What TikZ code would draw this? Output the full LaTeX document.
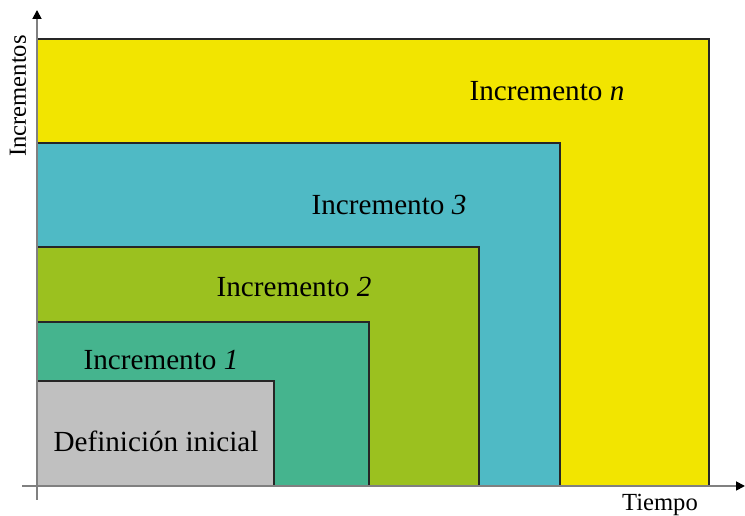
\documentclass[tikz,border=0pt]{standalone}
\usepackage{fontspec}
\setmainfont{Liberation Serif}
\usetikzlibrary{positioning,arrows.meta}

\definecolor{colN}{RGB}{242,229,0}
\definecolor{colTres}{RGB}{79,186,197}
\definecolor{colDos}{RGB}{155,193,31}
\definecolor{colUno}{RGB}{69,180,142}
\definecolor{colDef}{RGB}{192,192,192}

\tikzset{
  caja/.style={draw=black!85, line width=0.6pt},
  eje/.style={draw=gray, line width=1pt, -{Triangle[black,length=5pt,width=5pt]}},
  etiq/.style={font=\fontsize{16.6}{20}\selectfont, inner sep=0pt},
  ejetxt/.style={font=\fontsize{14}{17}\selectfont, inner sep=0pt}
}

\begin{document}
\begin{tikzpicture}[x=0.02cm,y=-0.02cm]
			\useasboundingbox (0,0) rectangle (745,516);
			
			\coordinate (o) at (37,486);
			\coordinate (xini) at (22,486);
			\coordinate (xfin) at (745,486);
			\coordinate (yini) at (37,500);
			\coordinate (yfin) at (37,10);
			
			\draw[caja, fill=colN] (o) rectangle (709,39);
			\draw[caja, fill=colTres] (o) rectangle (560,143);
			\draw[caja, fill=colDos] (o) rectangle (479,247);
			\draw[caja, fill=colUno] (o) rectangle (369,322);
			\draw[caja, fill=colDef] (o) rectangle (274,381);
			
			\node[etiq] (incn) at (547,91) {Incremento \textit{n}};
			\node[etiq] (inc3) at (389,205) {Incremento \textit{3}};
			\node[etiq] (inc2) at (294,287) {Incremento \textit{2}};
			\node[etiq] (inc1) at (161,360) {Incremento \textit{1}};
			\node[etiq] (def) at (156,441) {Definición inicial};
			
			\draw[eje] (xini) -- (xfin);
			\draw[eje] (yini) -- (yfin);
			
			\node[ejetxt] (tiempo) at (660,505) {Tiempo};
			\node[ejetxt, rotate=90] (incs) at (18,96) {Incrementos};
\end{tikzpicture}
\end{document}
